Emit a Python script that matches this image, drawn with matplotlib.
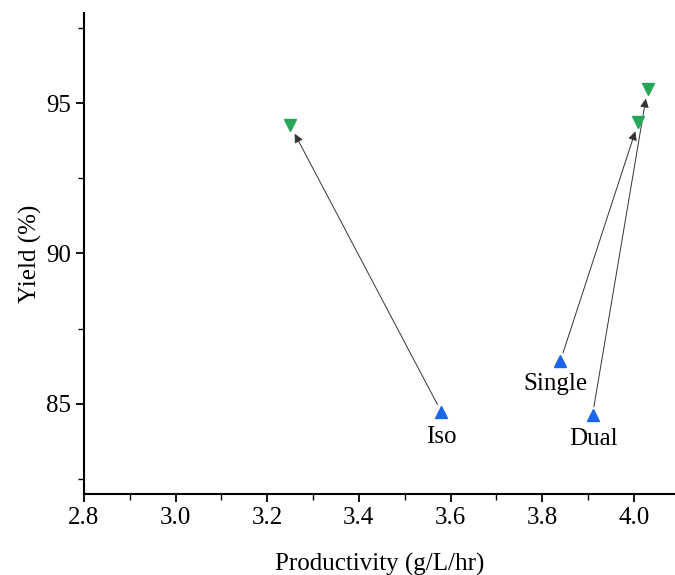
import matplotlib.pyplot as plt
from matplotlib.ticker import MultipleLocator

plt.rcParams['font.family'] = ['Liberation Serif', 'DejaVu Serif']

names = ['Iso', 'Single', 'Dual']
before_x = [3.58, 3.84, 3.91]
before_y = [84.73, 86.43, 84.63]
after_x = [3.25, 4.01, 4.03]
after_y = [94.27, 94.37, 95.47]

fig = plt.figure(figsize=(6.75, 5.75), dpi=100)
ax = fig.add_axes([0.1244, 0.1409, 0.8756, 0.8365])

blue = '#1a66e6'
green = '#27a65a'

for i in range(len(names)):
    ax.annotate('', xy=(after_x[i], after_y[i]), xytext=(before_x[i], before_y[i]),
                arrowprops=dict(arrowstyle='-|>', color='#333333', lw=0.7,
                                mutation_scale=13, shrinkA=6, shrinkB=7))

ax.plot(before_x, before_y, '^', color=blue, ms=9, ls='none', zorder=3)
ax.plot(after_x, after_y, 'v', color=green, ms=9, ls='none', zorder=3)

# labels under the starting points
offs = [(0, -18), (-3.6, -17), (1, -17)]
for i in range(len(names)):
    ax.annotate(names[i], (before_x[i], before_y[i]), xytext=offs[i],
                textcoords='offset points', ha='center', va='center', fontsize=18)

ax.set_xlim(2.8, 4.09)
ax.set_ylim(82, 98)
ax.xaxis.set_major_locator(MultipleLocator(0.2))
ax.xaxis.set_minor_locator(MultipleLocator(0.1))
ax.yaxis.set_major_locator(MultipleLocator(5))
ax.yaxis.set_minor_locator(MultipleLocator(2.5))
ax.xaxis.set_major_formatter(plt.FormatStrFormatter('%.1f'))

ax.spines['top'].set_visible(False)
ax.spines['right'].set_visible(False)
ax.spines['left'].set_linewidth(1.5)
ax.spines['bottom'].set_linewidth(1.5)
ax.tick_params(which='major', direction='out', length=6, width=1.3, labelsize=18)
ax.tick_params(which='minor', direction='out', length=4, width=1.0)

ax.set_xlabel('Productivity (g/L/hr)', fontsize=18, labelpad=17)
ax.set_ylabel('Yield (%)', fontsize=18, labelpad=3)

fig.savefig('out.png', dpi=100)
